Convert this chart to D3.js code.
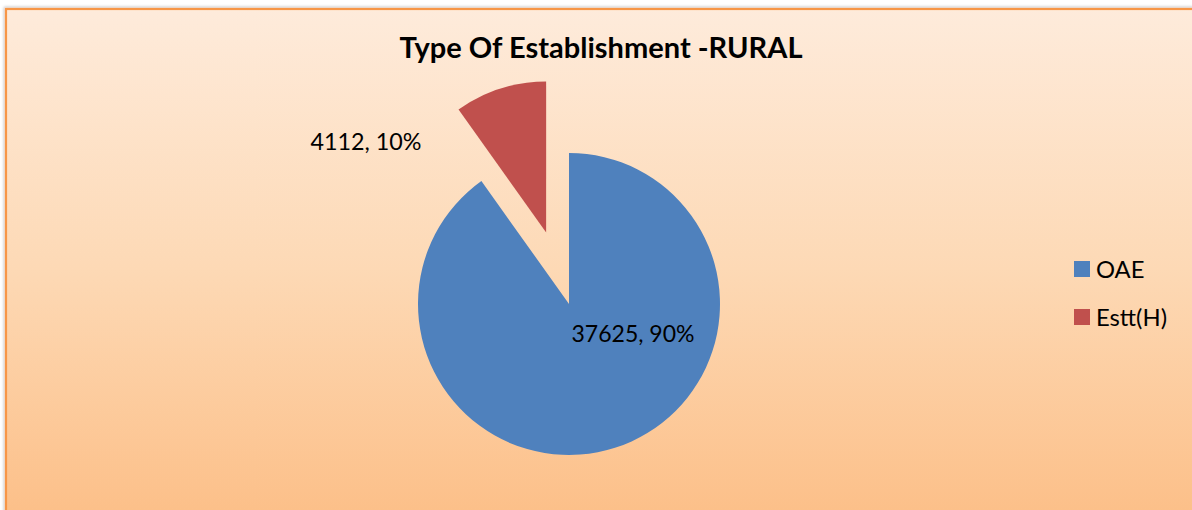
<!DOCTYPE html>
<html>
<head>
<meta charset="utf-8">
<script src="https://cdn.jsdelivr.net/npm/d3@7"></script>
<style>
  html, body { margin: 0; padding: 0; background: #ffffff; }
  svg { display: block; }
</style>
</head>
<body>
<svg id="chart" width="1192" height="510"></svg>
<script>
// ---- data ----
const categories = ["OAE", "Estt(H)"];
const values = [37625, 4112];
const percentLabels = ["90%", "10%"];
const title = "Type Of Establishment -RURAL";

// ---- layout / style ----
const colors = ["#4F81BD", "#C0504D"];
const cx = 569, cy = 304, radius = 151;
const explode = [0, 75];
const labelOffsets = [[64, 29], [-203, -163]]; // relative to pie centre
const fontFamily = "Lato, 'Open Sans', 'DejaVu Sans', sans-serif";

const svg = d3.select("#chart");
const defs = svg.append("defs");

const grad = defs.append("linearGradient")
  .attr("id", "bg").attr("x1", 0).attr("y1", 0).attr("x2", 0).attr("y2", 1);
grad.append("stop").attr("offset", "0%").attr("stop-color", "#FEEBDB");
grad.append("stop").attr("offset", "50%").attr("stop-color", "#FDD9B5");
grad.append("stop").attr("offset", "100%").attr("stop-color", "#FCBE86");

const filt = defs.append("filter").attr("id", "shadow")
  .attr("x", "-5%").attr("y", "-5%").attr("width", "110%").attr("height", "110%");
filt.append("feDropShadow").attr("dx", -1).attr("dy", -1)
  .attr("stdDeviation", 1.5).attr("flood-color", "#000").attr("flood-opacity", 0.25);

svg.append("rect")
  .attr("x", 6).attr("y", 9).attr("width", 1200).attr("height", 520)
  .attr("fill", "url(#bg)")
  .attr("stroke", "#F79646").attr("stroke-width", 2.2)
  .attr("filter", "url(#shadow)");

// fit helper: scale font size so text width matches target
function fitText(sel, targetWidth) {
  const node = sel.node();
  const fs = parseFloat(sel.attr("font-size"));
  const w = node.getComputedTextLength();
  if (w > 0) sel.attr("font-size", (fs * targetWidth / w).toFixed(2));
  return parseFloat(sel.attr("font-size"));
}

// title
const t = svg.append("text")
  .attr("x", 601).attr("y", 58)
  .attr("text-anchor", "middle")
  .attr("font-family", fontFamily)
  .attr("font-weight", "bold")
  .attr("font-size", 24)
  .attr("fill", "#000")
  .text(title);
fitText(t, 403);

// pie
const data = categories.map((c, i) => ({ cat: c, value: values[i], i }));
const pie = d3.pie().value(d => d.value).sort(null);
const arc = d3.arc().innerRadius(0).outerRadius(radius);
const arcs = pie(data);

const g = svg.append("g").attr("transform", `translate(${cx},${cy})`);
g.selectAll("path.slice")
  .data(arcs)
  .join("path")
  .attr("class", "slice")
  .attr("transform", d => {
    const a = (d.startAngle + d.endAngle) / 2;
    const e = explode[d.data.i];
    return `translate(${e * Math.sin(a)},${-e * Math.cos(a)})`;
  })
  .attr("d", arc)
  .attr("fill", d => colors[d.data.i]);

// data labels
g.selectAll("text.lbl")
  .data(arcs)
  .join("text")
  .attr("class", "lbl")
  .attr("x", d => labelOffsets[d.data.i][0])
  .attr("y", d => labelOffsets[d.data.i][1])
  .attr("text-anchor", "middle")
  .attr("dominant-baseline", "central")
  .attr("font-family", fontFamily)
  .attr("font-size", 20)
  .attr("fill", "#000")
  .text(d => `${d.data.value}, ${percentLabels[d.data.i]}`)
  .each(function(d) {
    fitText(d3.select(this), d.data.i === 0 ? 123 : 111);
  });

// legend
const legend = svg.append("g").attr("transform", "translate(1074,261)");
const items = legend.selectAll("g").data(categories).join("g")
  .attr("transform", (d, i) => `translate(0,${i * 48})`);
items.append("rect")
  .attr("width", 16).attr("height", 16)
  .attr("fill", (d, i) => colors[i]);
const legendTexts = items.append("text")
  .attr("x", 22).attr("y", 8)
  .attr("dominant-baseline", "central")
  .attr("font-family", fontFamily)
  .attr("font-size", 20)
  .attr("fill", "#000")
  .text(d => d);
// size legend font so "Estt(H)" matches the reference width
const lfs = fitText(d3.select(legendTexts.nodes()[1]), 71);
legendTexts.attr("font-size", lfs);
</script>
</body>
</html>
